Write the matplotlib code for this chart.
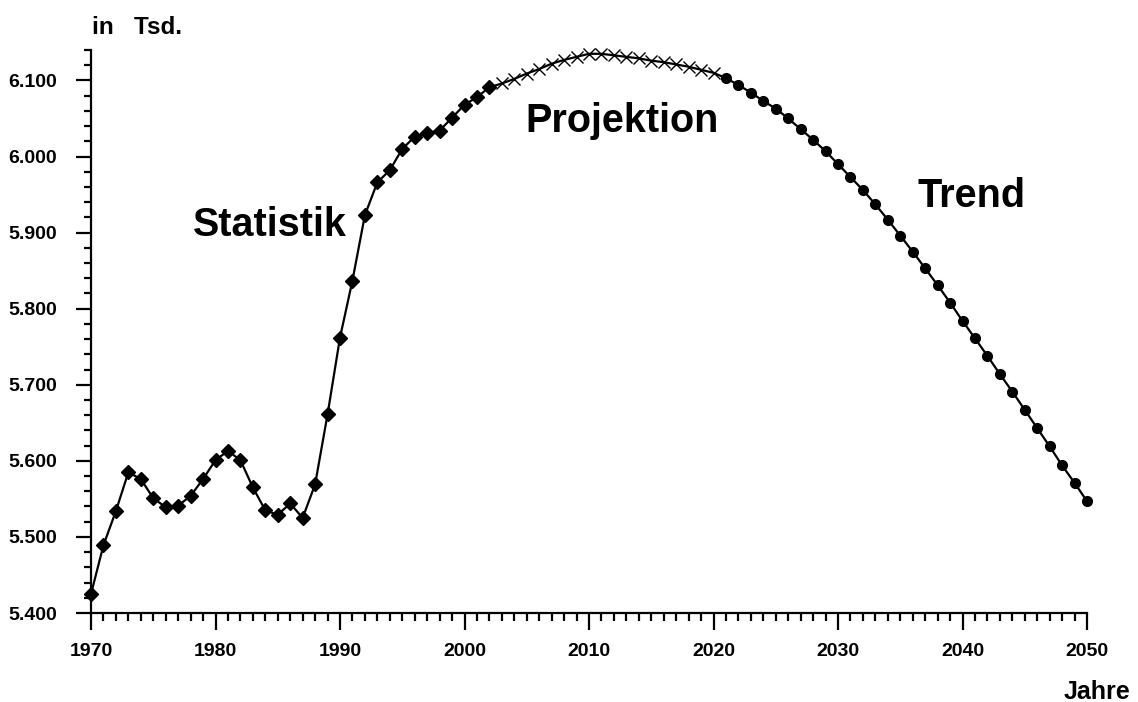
import matplotlib
matplotlib.use("Agg")
import matplotlib.pyplot as plt
from matplotlib.ticker import MultipleLocator, FuncFormatter

plt.rcParams['font.family'] = ['Liberation Sans', 'DejaVu Sans']
plt.rcParams['font.weight'] = 'bold'

# Statistik (diamonds), 1970-2002, values in thousands
stat_years = list(range(1970, 2003))
stat_values = [5425, 5489, 5534, 5585, 5576, 5551, 5539, 5541, 5554, 5576,
               5601, 5613, 5601, 5565, 5535, 5529, 5544, 5525, 5569, 5661,
               5762, 5837, 5923, 5966, 5982, 6010, 6026, 6031, 6034, 6051,
               6068, 6078, 6091]

# Projektion (x markers), 2003-2020
proj_years = list(range(2003, 2021))
proj_values = [6096, 6102, 6109, 6115, 6122, 6127, 6131, 6135, 6135, 6133,
               6131, 6129, 6126, 6124, 6121, 6118, 6114, 6110]

# Trend (dots), 2021-2050
trend_years = list(range(2021, 2051))
trend_values = [6103, 6094, 6084, 6073, 6063, 6050, 6036, 6022, 6007, 5990,
                5973, 5956, 5937, 5917, 5896, 5875, 5853, 5831, 5808, 5784,
                5761, 5738, 5714, 5691, 5667, 5643, 5619, 5594, 5571, 5547]

labels = {"Statistik": (1978.2, 5895), "Projektion": (2004.9, 6032), "Trend": (2036.4, 5933)}

fig = plt.figure(figsize=(11.38, 7.02), dpi=100)
ax = fig.add_axes([91/1138, 1 - 613/702, (1087 - 91)/1138, (613 - 50)/702])

all_years = stat_years + proj_years + trend_years
all_values = stat_values + proj_values + trend_values
ax.plot(all_years, all_values, color='black', lw=1.6, zorder=2, clip_on=False)
ax.plot(stat_years, stat_values, ls='none', marker='D', ms=7.5, color='black', zorder=3, clip_on=False)
ax.plot(proj_years, proj_values, ls='none', marker='x', ms=8, mew=1.0, color='black', zorder=3, clip_on=False)
ax.plot(trend_years, trend_values, ls='none', marker='o', ms=7, color='black', zorder=3, clip_on=False)

for txt, (x, y) in labels.items():
    ax.text(x, y, txt, fontsize=28.5, fontweight='bold', ha='left', va='baseline')

ax.set_xlim(1970, 2050)
ax.set_ylim(5400, 6140)
for s in ['top', 'right']:
    ax.spines[s].set_visible(False)
for s in ['left', 'bottom']:
    ax.spines[s].set_linewidth(1.6)

ax.xaxis.set_major_locator(MultipleLocator(10))
ax.xaxis.set_minor_locator(MultipleLocator(1))
ax.yaxis.set_major_locator(MultipleLocator(100))
ax.yaxis.set_minor_locator(MultipleLocator(20))
ax.yaxis.set_major_formatter(FuncFormatter(lambda v, p: f"{v:,.0f}".replace(",", ".")))

ax.tick_params(axis='x', which='major', length=12.5, width=1.6, pad=9, labelsize=14)
ax.tick_params(axis='x', which='minor', length=6, width=1.6)
ax.tick_params(axis='y', which='major', length=10.5, width=1.6, pad=14, labelsize=14)
ax.tick_params(axis='y', which='minor', length=5, width=1.6)
for lab in ax.get_xticklabels() + ax.get_yticklabels():
    lab.set_fontweight('bold')

fig.text(92/1138, 1 - 34/702, "in   Tsd.", fontsize=17.5, fontweight='bold', ha='left', va='baseline')
fig.text(1130/1138, 1 - 699/702, "Jahre", fontsize=18, fontweight='bold', ha='right', va='baseline')

fig.savefig("out.png", dpi=100, facecolor='white')
